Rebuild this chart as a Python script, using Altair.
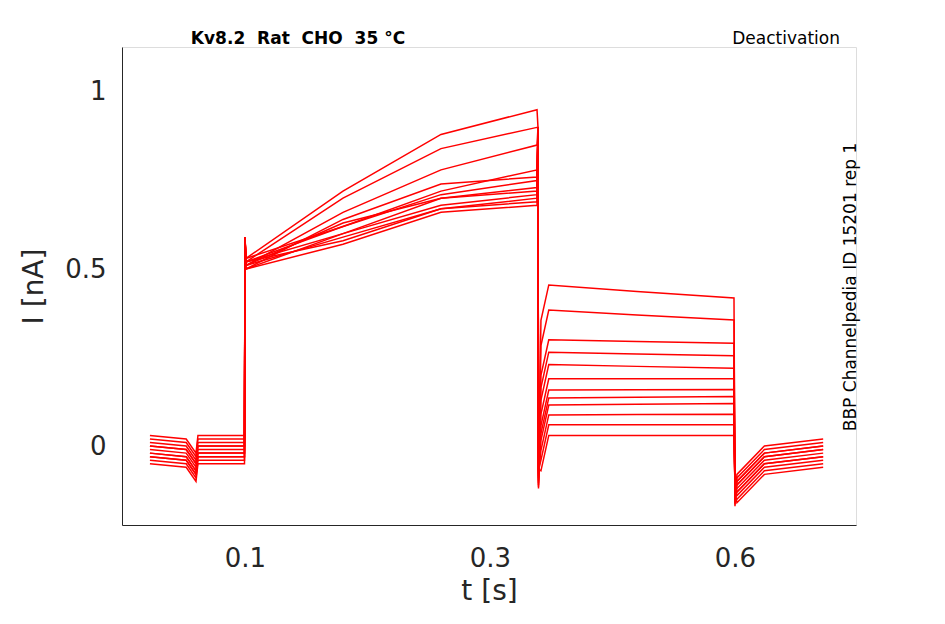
import altair as alt
import pandas as pd

# per-trace key values (12 sweeps)
base = [0.03, 0.02, 0.0, -0.01, -0.02, -0.03, -0.04, 0.01, -0.05, -0.02, 0.0, -0.03]
act_start = [0.53, 0.52, 0.51, 0.52, 0.50, 0.53, 0.52, 0.51, 0.50, 0.52, 0.51, 0.50]
act_02 = [0.72, 0.70, 0.66, 0.62, 0.64, 0.62, 0.60, 0.63, 0.60, 0.58, 0.59, 0.57]
act_03 = [0.88, 0.84, 0.78, 0.72, 0.74, 0.71, 0.70, 0.70, 0.68, 0.67, 0.67, 0.66]
act_end = [0.95, 0.90, 0.85, 0.78, 0.76, 0.75, 0.73, 0.72, 0.71, 0.70, 0.69, 0.68]
tail_start = [0.455, 0.384, 0.30, 0.265, 0.23, 0.19, 0.158, 0.136, 0.116, 0.088, 0.06, 0.03]
tail_end = [0.418, 0.356, 0.29, 0.255, 0.22, 0.19, 0.16, 0.14, 0.12, 0.09, 0.06, 0.03]
post = [0.02, 0.0, -0.01, -0.03, -0.05, -0.02, 0.01, -0.04, -0.06, -0.01, 0.0, -0.03]

rows = []
for i in range(len(base)):
    pts = [
        (0.003, base[i]), (0.04, base[i] - 0.01), (0.05, base[i] - 0.05), (0.052, base[i]),
        (0.0995, base[i]), (0.1, 0.59), (0.101, act_start[i]),
        (0.2, act_02[i]), (0.3, act_03[i]), (0.398, act_end[i]), (0.399, 0.9),
        (0.3995, -0.12 + i * 0.005), (0.402, tail_start[i] - 0.1), (0.41, tail_start[i]),
        (0.5, (tail_start[i] + tail_end[i]) / 2), (0.599, tail_end[i]),
        (0.6, -0.17 + i * 0.005), (0.602, post[i] - 0.1), (0.63, post[i] - 0.02), (0.69, post[i]),
    ]
    for t, v in pts:
        rows.append({"sweep": i, "t": t, "I": v})
df = pd.DataFrame(rows)

axis_style = dict(grid=False, ticks=False, labelFontSize=26, titleFontSize=28,
                  labelColor="#262626", titleColor="#262626", titleFontWeight="normal",
                  domainColor="#262626", format="~g")

lines = alt.Chart(df).mark_line(color="#ff0000", strokeWidth=1.5).encode(
    x=alt.X("t:Q", scale=alt.Scale(domain=[-0.0255, 0.7235], nice=False, zero=False),
            axis=alt.Axis(values=[0.1, 0.35, 0.6], title="t [s]", labelPadding=20,
                          titlePadding=6, **axis_style)),
    y=alt.Y("I:Q", scale=alt.Scale(domain=[-0.223, 1.127], nice=False, zero=False),
            axis=alt.Axis(values=[0, 0.5, 1], title="I [nA]", labelPadding=16,
                          titlePadding=16, **axis_style)),
    detail="sweep:N",
)

t1 = alt.Chart(pd.DataFrame({"s": ["Kv8.2\u00a0\u00a0Rat\u00a0\u00a0CHO\u00a0\u00a035\u00a0°C"]})).mark_text(
    fontSize=17, fontWeight="bold", align="center", color="black"
).encode(x=alt.value(176), y=alt.value(-8), text="s:N")
t2 = alt.Chart(pd.DataFrame({"s": ["Deactivation"]})).mark_text(
    fontSize=17, align="right", color="black"
).encode(x=alt.value(718), y=alt.value(-8), text="s:N")
t3 = alt.Chart(pd.DataFrame({"s": ["BBP Channelpedia ID 15201 rep 1"]})).mark_text(
    fontSize=17, angle=270, align="center", color="black"
).encode(x=alt.value(729), y=alt.value(240), text="s:N")

chart = (lines + t1 + t2 + t3).properties(
    width=734, height=478,
    autosize=alt.AutoSizeParams(type="none"),
    padding={"left": 114, "top": 39, "right": 80, "bottom": 100},
).configure_view(stroke=None).configure(font="DejaVu Sans")

chart.save("out.html", embed_options={"renderer": "svg", "actions": False})
